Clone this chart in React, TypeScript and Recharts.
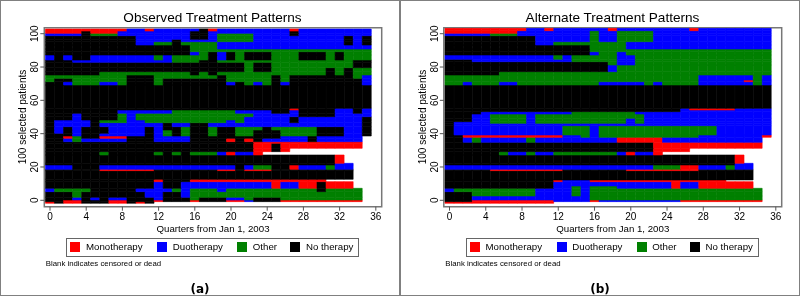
import { BarChart, Bar, Cell, XAxis, YAxis, ReferenceArea } from "recharts";

const quarters = Array.from({ length: 36 }, (_, i) => i);
const xTicks = [0, 4, 8, 12, 16, 20, 24, 28, 32, 36];
const yTickLabels = [0, 20, 40, 60, 80, 100];

// each band is a run list over the quarters: R mono, B duo, G other, K none
// whatever a band leaves out at the right end is blank (censored or dead)
// heights are in patients, listed from the top of the plot downwards
const observedHeights = [
  1.2, 1.4, 1.4, 2.2, 1.4, 2, 2.4, 1.6, 2, 3, 1.4, 3.2, 2.4, 2, 2, 2, 2, 14, 1,
  2, 2, 2, 1.6, 2.4, 2, 2, 1.6, 1.4, 2, 1, 3, 2, 2, 5, 1, 2.6, 0.8, 5.2, 1.4, 4, 2, 3.4, 1.6, 1, 1,
];
const observedRows = [
  "9R 2B 1R 5B 1K 1R 8B 1R 8B",
  "4R 1K 3R 8B 2K 9B 1K 8B",
  "4B 1K 3G 8B 2K 1B 4G 4B 1K 8B",
  "10K 6B 2K 1B 4G 10B 1K 1B 1K",
  "10K 4B 1K 4B 4G 10B 1K 1B 1K",
  "10K 2B 2G 1K 4G 14B 1K 1B 1K",
  "16K 3G 17B",
  "16K 20G",
  "16K 1B 1G 1K 1B 1K 1G 3K 3G 3K 1G 1K 3G",
  "1B 1K 1B 2K 7B 1G 1B 4G 1K 1B 1K 1G 3K 3G 3K 1G 1K 3G",
  "3K 11B 3G 2K 15G 2K",
  "22K 1G 2K 9G 2K",
  "22K 1G 2K 6G 1K 1G 1K 2G",
  "6K 10G 1K 1G 1K 12G 1K 1G 1K 2G",
  "9G 3K 7G 1K 5G 1K 1G 7K 1G 1B",
  "1G 2K 6G 3K 1G 7K 5G 1K 1G 8K 1B",
  "2K 1B 3G 2B 1G 3K 1G 7K 1B 1K 1G 1B 1G 1K 1B 8K 1B",
  "36K",
  "27K 1R 4K 2B 1K 1B",
  "8K 6B 7G 4B 2K 1B 4K 2B 1K 1B",
  "3K 1B 4K 1G 1B 13G 5B 4K 4B",
  "3K 1B 4K 1G 1B 12G 5B 1K 7B 1K",
  "1K 4B 1K 3G 2B 9G 1B 1G 5B 1K 7B 1K",
  "1K 4B 1K 7B 1K 2B 2K 17B 1K",
  "1K 1B 1K 1B 3K 4B 1K 1B 2K 1G 2K 1G 2K 3G 1K 5G 3K 2B 1K",
  "1K 1B 1K 1B 3K 4B 1K 1B 1G 1K 1G 2K 1G 2K 2G 3K 4G 3K 2B 1K",
  "3K 1B 2K 5B 1K 1B 1G 1K 1G 2K 1G 2K 2G 3K 4G 3K 2B 1K",
  "2K 1R 1G 2K 3R 3K 4B 10K 3B 1K 5B",
  "2K 1B 1G 5B 3K 4B 4K 1R 1K 1R 1K 5B 1K 5B",
  "23K 12R",
  "23K 2R 1K 9R",
  "23K 2R 1K 1R",
  "6K 1G 5K 1G 1K 1G 1K 3G 1B 1R 2B 1R",
  "32K 1R",
  "32K 2B",
  "3B 3K 15B 1K 1B 2G 2K 1R 3B 1G 2B",
  "6K 6R 7K 2R 1K 3R 9K",
  "34K",
  "12K 1R 3K 15R",
  "12K 1B 2K 10B 1R 2B 2R 1K 3R",
  "1B 4G 5K 4B 1G 1B 3G 1B 10G 1K 4G",
  "3K 1G 7K 2B 2K 1B 19G",
  "3K 1B 1K 1B 1K 2B 3K 1B 3K 1G 3K 2B 1G 3K 9G",
  "2K 2R 3K 2R 3K 1R 3K 1R 3K 2R 1B 3K 9R",
  "1R 1K 2R 3K 2R 1K 1R 1K",
];

const alternateHeights = [
  1.4, 1.6, 1.4, 3.6, 2, 2.4, 1.6, 2, 2.6, 1.4, 2, 4, 2, 3, 1, 2, 14, 1,
  1, 1.4, 2.6, 2, 1, 1.4, 5.6, 1.4, 3, 3.6, 2, 2, 5, 1, 2.6, 0.8, 5.6, 1, 2.6, 1.4, 2, 2.6, 2.4, 1, 1,
];
const alternateRows = [
  "9R 2B 1R 6B 1R 8B 1R 8B",
  "8R 8B 1G 2B 4G 13B",
  "5B 3G 8B 1G 2B 4G 13B",
  "10K 6B 1G 2B 4G 13B",
  "10K 2B 8G 16B",
  "16K 4G 16B",
  "16K 20G",
  "16K 1B 2G 1B 16G",
  "12B 1G 1B 5G 2B 15G",
  "3K 11B 5G 2B 15G",
  "18K 1G 2B 15G",
  "18K 1B 17G",
  "6K 30G",
  "28G 6B 1G 1B",
  "28G 5B 1R 1G 1B",
  "2G 1B 3G 2B 9G 5B 1G 1B 4G 6B 1G 1B",
  "36K",
  "26K 1B 5R 4B",
  "26K 10B",
  "4K 10B 7G 15B",
  "3K 2B 4G 1B 12G 14B",
  "3K 2B 4G 1B 10G 1B 1G 14B",
  "1K 4B 4G 1B 10G 1B 1G 14B",
  "1K 35B",
  "1K 12B 3G 1B 13G 6B",
  "2K 11R 2B 1G 1B 11G 7B 1R",
  "2K 1B 1G 5B 1G 9B 5R 11B",
  "23K 12R",
  "23K 4R",
  "6K 1G 2B 1G 2B 7G 1B 1R 2B 1R",
  "32K 1R",
  "32K 2B",
  "23B 3G 2R 3B 1G 2B",
  "5K 8R 7K 8R 6K",
  "34K",
  "12K 1R 3B 15R",
  "12K 13B 1R 2B 6R",
  "12K 2B 1G 1B 3G 6B 1R 2B 6R",
  "1B 9G 4B 1G 1B 19G",
  "3K 7G 4B 1G 1B 19G",
  "3K 13B 19G",
  "3K 9R 4B 1R 9B 9R",
  "12R",
];

const legendLabels = ["Monotherapy", "Duotherapy", "Other", "No therapy"];
const legendCodes = ["R", "B", "G", "K"];
const legendLefts = [3.2, 90, 170, 223.2];

const stateColors: Record<string, string> = {
  R: "#ff0000",
  B: "#0000ff",
  G: "#008000",
  K: "#000000",
};

const FONT = "'Liberation Sans', Arial, sans-serif";
const BASE = 1.8; // patient 0 sits this far above the bottom of the first band
const Y_DOMAIN: [number, number] = [-2.04, 105.4];
const X_DOMAIN: [number, number] = [-0.63, 36.65];

function expandRuns(row: string): string {
  return row
    .split(" ")
    .map((run) => run.slice(-1).repeat(parseInt(run, 10)))
    .join("");
}

function YTick({ x, y, payload }: any) {
  return (
    <text x={x} y={y} transform={`rotate(-90 ${x} ${y})`} textAnchor="middle" fontSize={10} fontFamily={FONT} fill="#000">
      {Math.round(payload.value - BASE)}
    </text>
  );
}

interface PanelProps {
  left: number;
  title: string;
  tag: string;
  heights: number[];
  rows: string[];
  plotLeft: number;
}

function Panel({ left, title, tag, heights, rows, plotLeft }: PanelProps) {
  // stacks grow upwards, the bands are listed downwards
  const bandHeights = [...heights].reverse();
  const bandRows = [...rows].reverse().map(expandRuns);
  const data = quarters.map((q) => {
    const row: Record<string, number> = { quarter: q };
    bandHeights.forEach((h, i) => {
      row[`b${i}`] = h;
    });
    return row;
  });

  return (
    <div style={{ position: "absolute", left, top: 0, width: 400, height: 296, fontFamily: FONT, color: "#000" }}>
      <BarChart
        width={400}
        height={296}
        data={data}
        margin={{ top: 27.7, right: 18.3, bottom: 69.3, left: plotLeft - 30 }}
        style={{ position: "absolute", left: 0, top: 0 }}
      >
        <XAxis
          type="number"
          dataKey="quarter"
          domain={X_DOMAIN}
          ticks={xTicks}
          allowDataOverflow
          height={20}
          tick={{ fontSize: 10, fill: "#000", fontFamily: FONT }}
          tickLine={{ stroke: "#555" }}
          tickSize={4}
          axisLine={false}
          label={{ value: "Quarters from Jan 1, 2003", position: "bottom", offset: -2, fontSize: 9.7, fill: "#000", fontFamily: FONT }}
        />
        <YAxis
          type="number"
          domain={Y_DOMAIN}
          allowDataOverflow
          width={30}
          ticks={yTickLabels.map((v) => v + BASE)}
          tick={<YTick />}
          tickLine={{ stroke: "#555" }}
          tickSize={4}
          axisLine={false}
        />
        {bandRows.map((row, i) => (
          <Bar key={i} dataKey={`b${i}`} stackId="a" barSize={9} isAnimationActive={false}>
            {quarters.map((q) => (
              <Cell key={q} fill={stateColors[row[q]] ?? "none"} stroke={stateColors[row[q]] ?? "none"} strokeWidth={0.6} />
            ))}
          </Bar>
        ))}
        <ReferenceArea x1={X_DOMAIN[0]} x2={X_DOMAIN[1]} y1={Y_DOMAIN[0]} y2={Y_DOMAIN[1]} fill="none" stroke="#777" strokeWidth={1.5} ifOverflow="visible" />
      </BarChart>

      <div style={{ position: "absolute", left: 0, width: 425, top: 8.5, textAlign: "center", fontSize: 13.6, lineHeight: "17px" }}>{title}</div>
      <div
        style={{
          position: "absolute",
          left: 21.5,
          top: 117,
          fontSize: 10,
          whiteSpace: "nowrap",
          transform: "translate(-50%, -50%) rotate(-90deg)",
        }}
      >
        100 selected patients
      </div>

      <div
        style={{
          position: "absolute",
          left: plotLeft + 22,
          top: 237.5,
          width: 293,
          height: 19,
          border: "1px solid #666",
          boxSizing: "border-box",
        }}
      >
        {legendLabels.map((label, i) => (
          <span
            key={label}
            style={{ position: "absolute", left: legendLefts[i], top: 3.5, display: "flex", alignItems: "center", fontSize: 9.7, lineHeight: "10px", whiteSpace: "nowrap" }}
          >
            <span style={{ width: 10, height: 10, background: stateColors[legendCodes[i]], marginRight: 5.5, display: "inline-block" }} />
            {label}
          </span>
        ))}
      </div>

      <div style={{ position: "absolute", left: plotLeft + 1.5, top: 259, fontSize: 7.8, lineHeight: "10px" }}>Blank indicates censored or dead</div>
      <div style={{ position: "absolute", left: 0, width: 400, top: 282, textAlign: "center", fontSize: 12, lineHeight: "14px", fontWeight: 700, fontFamily: "'DejaVu Sans', sans-serif" }}>{tag}</div>
      <div style={{ position: "absolute", left: 0, top: 0, width: 400, height: 296, boxSizing: "border-box", border: "1.5px solid #808080", pointerEvents: "none" }} />
    </div>
  );
}

export default function App() {
  return (
    <div style={{ position: "absolute", left: 0, top: 0, width: 800, height: 296, background: "#fff", overflow: "hidden", filter: "blur(0.35px)" }}>
      <Panel left={0} title="Observed Treatment Patterns" tag="(a)" heights={observedHeights} rows={observedRows} plotLeft={44.3} />
      <Panel left={400} title="Alternate Treatment Patterns" tag="(b)" heights={alternateHeights} rows={alternateRows} plotLeft={43.8} />
    </div>
  );
}
